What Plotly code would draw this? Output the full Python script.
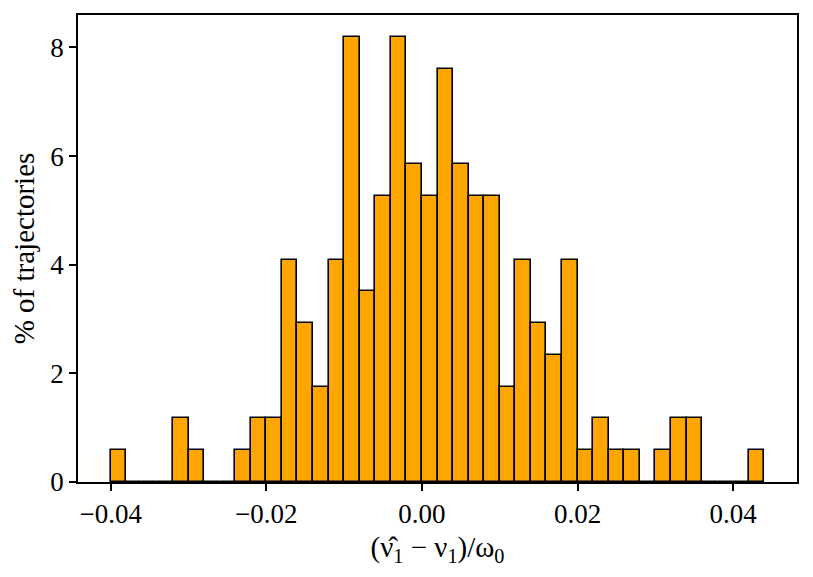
import plotly.graph_objects as go

# histogram: 42 bins of width 0.002 starting at -0.04
bin_start = -0.04
bin_width = 0.002
counts = [1, 0, 0, 0, 2, 1, 0, 0, 1, 2, 2, 7, 5, 3, 7, 14, 6, 9, 14, 10, 9,
          13, 10, 9, 9, 3, 7, 5, 4, 7, 1, 2, 1, 1, 0, 1, 2, 2, 0, 0, 0, 1]
x_ticks = [-0.04, -0.02, 0.0, 0.02, 0.04]
y_ticks = [0, 2, 4, 6, 8]

total = sum(counts)
percent = [c / total * 100 for c in counts]
centers = [bin_start + (i + 0.5) * bin_width for i in range(len(counts))]

x_lo = bin_start
x_hi = bin_start + len(counts) * bin_width
pad = 0.05 * (x_hi - x_lo)

FONT = "Liberation Serif, Times New Roman, serif"

fig = go.Figure(go.Bar(
    x=centers,
    y=percent,
    width=bin_width,
    marker=dict(color="#FFA500", line=dict(color="black", width=1.6)),
))

# the page body has an 8px margin, so the figure is a bit smaller than the window
fig.update_layout(
    width=797, height=561,
    margin=dict(l=70, r=8, t=7, b=87),
    plot_bgcolor="white",
    paper_bgcolor="white",
    font=dict(family=FONT, size=27, color="black"),
    showlegend=False,
    bargap=0,
)
fig.update_xaxes(
    range=[x_lo - pad, x_hi + pad],
    tickvals=x_ticks, tickformat=".2f",
    ticks="outside", ticklen=7, tickwidth=1.5, tickcolor="black",
    showline=True, linecolor="black", linewidth=1.6, mirror=True,
    showgrid=False, zeroline=False, automargin=False,
    title=dict(text="(ν̂<sub>1</sub> − ν<sub>1</sub>)/ω<sub>0</sub>", font=dict(size=29), standoff=8),
)
fig.update_yaxes(
    range=[0, max(percent) * 1.05],
    tickvals=y_ticks,
    ticks="outside", ticklen=7, tickwidth=1.5, tickcolor="black",
    showline=True, linecolor="black", linewidth=1.6, mirror=True,
    showgrid=False, zeroline=False, automargin=False,
    title=dict(text="% of trajectories", font=dict(size=29), standoff=10),
)

fig.write_html("out.html")
